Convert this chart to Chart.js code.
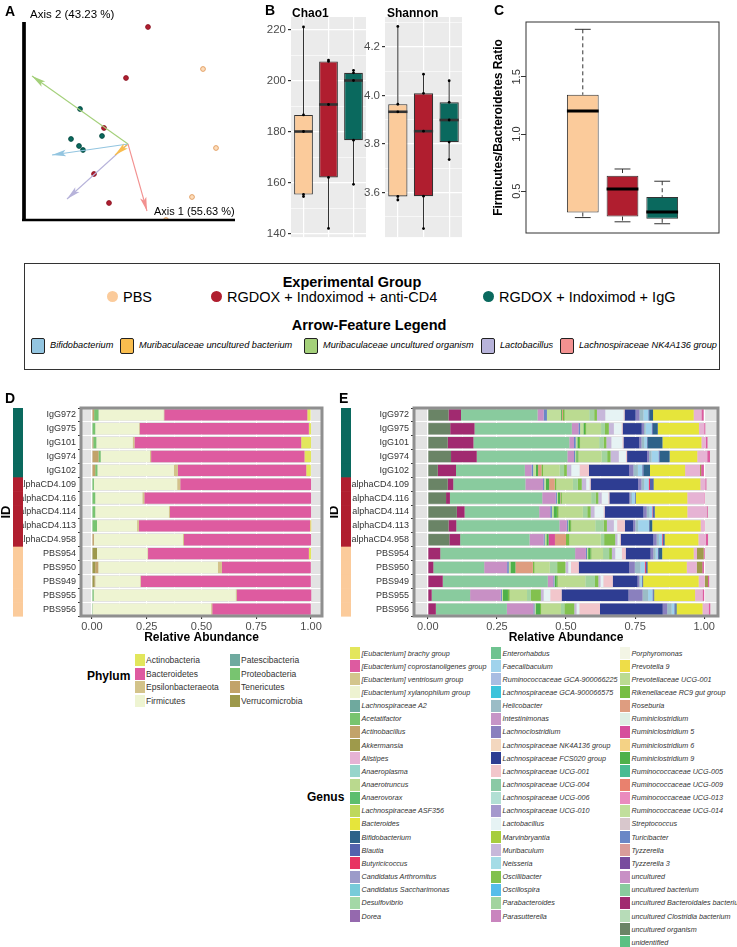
<!DOCTYPE html>
<html>
<head>
<meta charset="utf-8">
<script src="https://cdn.jsdelivr.net/npm/chart.js@4.4.1/dist/chart.umd.min.js"></script>
<style>
  body { margin: 0; width: 737px; height: 947px; position: relative; overflow: hidden; background: #fff;
         font-family: 'Liberation Sans', Arial, sans-serif; color: #000; }
  canvas { position: absolute; }
  .t { position: absolute; white-space: nowrap; line-height: 1; }
</style>
</head>
<body>
<script>
// ---------- data ----------
const GROUPS = ["PBS", "RGDOX + Indoximod + anti-CD4", "RGDOX + Indoximod + IgG"];
const GROUP_COLORS = ["#FBCB9B", "#B01E2F", "#0A695E"];

// A: PCoA scores and feature arrows
const pbsX = [0.75, 0.88, 0.64, 0.38];
const pbsY = [0.75, -0.04, -0.53, -0.76];
const cd4X = [0.20, -0.02, -0.24, -0.34, -0.19];
const cd4Y = [1.17, 0.66, 0.16, -0.30, -0.59];
const iggX = [-0.48, -0.57, -0.49, -0.45, -0.26];
const iggY = [0.35, 0.05, -0.02, -0.06, 0.08];
const arrowFeatures = ["Bifidobacterium", "Muribaculaceae uncultured bacterium", "Muribaculaceae uncultured organism", "Lactobacillus", "Lachnospiraceae NK4A136 group"];
const arrowX = [-0.76, -0.13, -0.96, -0.61, 0.19];
const arrowY = [-0.11, -0.11, 0.68, -0.55, -0.67];
const arrowColors = ["#93C5E0", "#F9BD4E", "#A4D07A", "#B7B3DA", "#F29190"];

// B: alpha diversity, each = [max, q3, median, q1, min] (n = 5 per group)
const alphaLabels = ["PBS", "anti-CD4", "IgG"];
const chaoPBS = [221, 186.5, 180, 155.3, 154.5];
const chaoCD4 = [208, 207.5, 190.6, 162, 142];
const chaoIgG = [204, 203, 200, 176.6, 159.3];
const chaoTicks = [140, 160, 180, 200, 220];
const shanPBS = [4.285, 3.964, 3.933, 3.584, 3.569];
const shanCD4 = [4.088, 4.009, 3.853, 3.585, 3.451];
const shanIgG = [4.061, 3.972, 3.899, 3.808, 3.736];
const shanTicks = [3.6, 3.8, 4.0, 4.2];

// C: Firmicutes/Bacteroidetes ratio
const fbPBS = [1.916, 1.343, 1.201, 0.313, 0.269];
const fbCD4 = [0.694, 0.635, 0.52, 0.278, 0.232];
const fbIgG = [0.587, 0.45, 0.317, 0.258, 0.215];
const fbTicks = [0.5, 1.0, 1.5];

// D / E samples
const samples = ["IgG972", "IgG975", "IgG101", "IgG974", "IgG102",
                 "alphaCD4.109", "alphaCD4.116", "alphaCD4.114", "alphaCD4.113", "alphaCD4.958",
                 "PBS954", "PBS950", "PBS949", "PBS955", "PBS956"];
const sampleGroup = [2, 2, 2, 2, 2, 1, 1, 1, 1, 1, 0, 0, 0, 0, 0];
const abundTicks = [0, 0.25, 0.5, 0.75, 1];

// D: phylum
const phyla = ["Actinobacteria", "Bacteroidetes", "Epsilonbacteraeota", "Firmicutes",
               "Patescibacteria", "Proteobacteria", "Tenericutes", "Verrucomicrobia"];
const phylaColors = ["#E2E65C", "#DE5BA0", "#D3C38A", "#EEF4D2", "#6FAA9F", "#78C470", "#C2A36A", "#9D994C"];
const actinobacteria = [0.015, 0.010, 0.045, 0.030, 0.021, 0, 0, 0, 0.005, 0, 0.010, 0, 0, 0, 0];
const bacteroidetes = [0.653, 0.772, 0.761, 0.700, 0.586, 0.597, 0.761, 0.644, 0.782, 0.580, 0.734, 0.406, 0.776, 0.340, 0.450];
const epsilonbacteraeota = [0.003, 0.003, 0.008, 0.005, 0.018, 0.014, 0.009, 0.005, 0.008, 0.005, 0.003, 0.018, 0.003, 0.005, 0.005];
const firmicutes = [0.297, 0.200, 0.166, 0.225, 0.349, 0.380, 0.215, 0.336, 0.183, 0.406, 0.230, 0.546, 0.205, 0.648, 0.540];
const patescibacteria = [0, 0, 0, 0, 0, 0, 0, 0, 0, 0, 0, 0, 0, 0, 0];
const proteobacteria = [0.020, 0.015, 0.014, 0.010, 0.010, 0.009, 0.015, 0.015, 0.023, 0, 0, 0, 0, 0.008, 0.004];
const tenericutes = [0.010, 0, 0.006, 0.030, 0.015, 0, 0, 0, 0, 0.009, 0, 0.014, 0.004, 0, 0];
const verrucomicrobia = [0, 0, 0, 0, 0, 0, 0, 0, 0, 0, 0.023, 0.015, 0.011, 0, 0];

// E: genus legend (65 levels)
const genusNames = ["[Eubacterium] brachy group", "[Eubacterium] coprostanoligenes group", "[Eubacterium] ventriosum group",
  "[Eubacterium] xylanophilum group", "Lachnospiraceae A2", "Acetatifactor", "Actinobacillus", "Akkermansia", "Alistipes",
  "Anaeroplasma", "Anaerotruncus", "Anaerovorax", "Lachnospiraceae ASF356", "Bacteroides", "Bifidobacterium", "Blautia",
  "Butyricicoccus", "Candidatus Arthromitus", "Candidatus Saccharimonas", "Desulfovibrio", "Dorea",
  "Enterorhabdus", "Faecalibaculum", "Ruminococcaceae GCA-900066225", "Lachnospiraceae GCA-900066575", "Helicobacter",
  "Intestinimonas", "Lachnoclostridium", "Lachnospiraceae NK4A136 group", "Lachnospiraceae FCS020 group",
  "Lachnospiraceae UCG-001", "Lachnospiraceae UCG-004", "Lachnospiraceae UCG-006", "Lachnospiraceae UCG-010",
  "Lactobacillus", "Marvinbryantia", "Muribaculum", "Neisseria", "Oscillibacter", "Oscillospira", "Parabacteroides",
  "Parasutterella",
  "Porphyromonas", "Prevotella 9", "Prevotellaceae UCG-001", "Rikenellaceae RC9 gut group", "Roseburia",
  "Ruminiclostridium", "Ruminiclostridium 5", "Ruminiclostridium 6", "Ruminiclostridium 9", "Ruminococcaceae UCG-005",
  "Ruminococcaceae UCG-009", "Ruminococcaceae UCG-013", "Ruminococcaceae UCG-014", "Streptococcus", "Turicibacter",
  "Tyzzerella", "Tyzzerella 3", "uncultured", "uncultured bacterium", "uncultured Bacteroidales bacterium",
  "uncultured Clostridia bacterium", "uncultured organism", "unidentified"];
const genusColors = ["#E3E65C", "#DD5BA0", "#D3C58C", "#EEF3D1", "#6FA99E", "#78C46F", "#C2A36B", "#9E9A4B", "#E6B3D4",
  "#97D5CB", "#BAD98E", "#5DBE6E", "#BED85C", "#E6E53B", "#2E6289", "#5462AD", "#E83462", "#9C9BC9", "#78CBD9",
  "#A3D8A6", "#9569AE",
  "#6FC390", "#A0D3EC", "#A9BDE2", "#3CC3DB", "#9BBCC6", "#C695C7", "#8A80BE", "#F3D7BF", "#2E3D92", "#F2C6CB",
  "#8AC9A5", "#B2DFD4", "#A599CD", "#E6F3F4", "#A7CD3D", "#C7B8DA", "#A4DCE6", "#82C14E", "#56BDEA", "#A2D49F",
  "#C985BE",
  "#F3F5E5", "#EEDD48", "#BBDB91", "#77BE44", "#DE9D80", "#DFEFE5", "#D64E9C", "#F4D285", "#4EB14A", "#4ABC93",
  "#E9816E", "#EA8BBE", "#C1DF9C", "#D8C7CC", "#6A87C6", "#D99C9A", "#784C9E", "#C890C5", "#89CB9E", "#A12A70",
  "#B7DCB8", "#6A8466", "#5BC083"];

// E: genus abundances (main genera, listed left to right in the bars)
const uncOrganism = [0.075, 0.081, 0.072, 0.084, 0.036, 0.072, 0.066, 0.105, 0.075, 0.078, 0, 0, 0, 0, 0];
const uncBacteroidales = [0.045, 0.088, 0.093, 0.093, 0.066, 0.020, 0.014, 0.028, 0.028, 0.039, 0.045, 0.020, 0.054, 0.014, 0.029];
const uncBacterium = [0.277, 0.352, 0.347, 0.328, 0.249, 0.261, 0.334, 0.270, 0.373, 0.251, 0.488, 0.184, 0.380, 0.139, 0.257];
const uncultured = [0.022, 0.024, 0.017, 0.024, 0.024, 0.064, 0.049, 0.040, 0.027, 0.051, 0.039, 0.083, 0.020, 0.111, 0.096];
const turicibacter = [0.012, 0.006, 0.006, 0.004, 0.006, 0.004, 0.004, 0.006, 0.004, 0.004, 0.004, 0.006, 0.004, 0.004, 0.004];
const rumUCG014 = [0.050, 0.012, 0.006, 0.004, 0.010, 0.006, 0.004, 0.006, 0.002, 0.006, 0.004, 0.006, 0.002, 0.004, 0.004];
const ruminiclostridium9 = [0.004, 0.006, 0.006, 0.004, 0.008, 0.012, 0.008, 0.012, 0.006, 0.008, 0.008, 0.018, 0.006, 0.018, 0.016];
const ruminiclostridium5 = [0, 0, 0, 0, 0, 0, 0, 0, 0, 0.023, 0, 0, 0, 0, 0];
const roseburia = [0.004, 0, 0, 0, 0.012, 0.020, 0.002, 0, 0, 0.040, 0, 0.063, 0, 0, 0];
const rc9 = [0.006, 0.004, 0.004, 0.004, 0.006, 0.006, 0.004, 0.006, 0.004, 0.012, 0.004, 0.006, 0.004, 0.006, 0.004];
const prevotellaceaeUCG001 = [0.089, 0.054, 0.069, 0.084, 0.060, 0.060, 0.106, 0.088, 0.087, 0.114, 0.042, 0.055, 0.100, 0.063, 0.072];
const parabacteroides = [0.018, 0.014, 0.016, 0.020, 0.016, 0.018, 0.016, 0.016, 0.030, 0.012, 0.022, 0.027, 0.035, 0.014, 0.012];
const oscillibacter = [0.010, 0.014, 0.010, 0.012, 0.010, 0.014, 0.010, 0.012, 0.012, 0.040, 0.010, 0.030, 0.012, 0.036, 0.036];
const muribaculum = [0.030, 0.018, 0.018, 0.030, 0.016, 0.016, 0.012, 0.014, 0.025, 0.008, 0.012, 0.010, 0.008, 0.010, 0.008];
const lactobacillus = [0.066, 0.028, 0.040, 0.026, 0.030, 0.012, 0.024, 0.033, 0.012, 0.008, 0.024, 0.010, 0.010, 0.024, 0.010];
const lachnoUCG001 = [0.004, 0.004, 0.004, 0.004, 0.034, 0.004, 0.004, 0.004, 0.028, 0.004, 0.014, 0.028, 0.034, 0.041, 0.075];
const lachnoFCS020 = [0.040, 0.069, 0.057, 0.072, 0.145, 0.172, 0.072, 0.140, 0.030, 0.118, 0.090, 0.183, 0.090, 0.242, 0.227];
const lachnoclostridium = [0.014, 0.008, 0.008, 0.008, 0.016, 0.012, 0.004, 0.012, 0.008, 0.012, 0.010, 0.020, 0.006, 0.051, 0.016];
const helicobacter = [0.014, 0.006, 0.010, 0.008, 0.016, 0.010, 0.006, 0.010, 0.010, 0.008, 0.008, 0.020, 0.004, 0.020, 0.016];
const faecalibaculum = [0.018, 0.022, 0.010, 0.026, 0.016, 0.016, 0.010, 0.010, 0.039, 0.012, 0.008, 0.016, 0.006, 0.016, 0.010];
const butyricicoccus = [0, 0, 0, 0, 0, 0.005, 0, 0.002, 0, 0.003, 0, 0.004, 0, 0, 0];
const blautia = [0.003, 0.004, 0.002, 0.004, 0.004, 0.011, 0.002, 0.006, 0.002, 0.004, 0.004, 0.004, 0.002, 0.004, 0.004];
const bifidobacterium = [0.014, 0.018, 0.054, 0.036, 0.024, 0.002, 0.002, 0.002, 0.010, 0.002, 0.012, 0.002, 0.002, 0.002, 0.004];
const bacteroides = [0.147, 0.149, 0.141, 0.100, 0.127, 0.169, 0.186, 0.117, 0.175, 0.122, 0.114, 0.142, 0.201, 0.148, 0.094];
const alistipes = [0.028, 0.019, 0.016, 0.036, 0.054, 0.018, 0.061, 0.070, 0.012, 0.027, 0.012, 0.036, 0.022, 0.027, 0.022];
const akkermansia = [0, 0, 0, 0, 0.004, 0, 0, 0, 0, 0, 0.024, 0.020, 0.012, 0, 0];
const coprostanoligenes = [0.008, 0.004, 0.006, 0.010, 0.010, 0.004, 0.002, 0.004, 0.002, 0.008, 0.004, 0.006, 0.004, 0.006, 0.006];

// ---------- helpers ----------
Chart.defaults.font.family = "'Liberation Sans', Arial, sans-serif";
Chart.defaults.color = "#333";

function canvasAt(left, top, w, h) {
  const c = document.createElement("canvas");
  c.width = w; c.height = h;
  c.style.left = left + "px"; c.style.top = top + "px";
  c.style.width = w + "px"; c.style.height = h + "px";
  document.body.appendChild(c);
  return c;
}

function text(str, left, top, css) {
  const d = document.createElement("div");
  d.className = "t";
  d.textContent = str;
  d.style.left = left + "px";
  d.style.top = top + "px";
  if (css) d.style.cssText += css;
  document.body.appendChild(d);
  return d;
}

function box(left, top, w, h, css) {
  const d = document.createElement("div");
  d.style.cssText = `position:absolute;left:${left}px;top:${top}px;width:${w}px;height:${h}px;box-sizing:border-box;` + (css || "");
  document.body.appendChild(d);
  return d;
}

const common = {
  responsive: false,
  animation: false,
  devicePixelRatio: 1,
  events: []
};

// background fill + frame around the plot area
Chart.register({
  id: "bgFrame",
  beforeDraw(chart, args, o) {
    const a = chart.chartArea, c = chart.ctx;
    if (o.bg) {
      c.fillStyle = o.bg;
      c.fillRect(a.left, a.top, a.right - a.left, a.bottom - a.top);
    }
  },
  afterDraw(chart, args, o) {
    const a = chart.chartArea, c = chart.ctx;
    if (o.frame) {
      c.save();
      c.strokeStyle = o.frame;
      c.lineWidth = o.frameWidth || 1;
      c.strokeRect(a.left, a.top, a.right - a.left, a.bottom - a.top);
      c.restore();
    }
    if (o.lAxes) {
      c.save();
      c.strokeStyle = "#000";
      c.lineWidth = 3.7;
      c.beginPath(); c.moveTo(a.left - 2, a.top); c.lineTo(a.left - 2, a.bottom + 1); c.stroke();
      c.lineWidth = 2.4;
      c.beginPath(); c.moveTo(a.left - 4, a.bottom); c.lineTo(a.right, a.bottom); c.stroke();
      c.restore();
    }
  }
});

// whiskers and median lines for boxes built from floating bars
Chart.register({
  id: "boxExtras",
  beforeDatasetsDraw(chart, args, o) {
    if (!o.stats) return;
    const c = chart.ctx, ys = chart.scales.y;
    const bars = chart.getDatasetMeta(0).data;
    c.save();
    c.strokeStyle = o.color || "#333";
    c.lineWidth = 1;
    o.stats.forEach((s, i) => {
      const x = bars[i].x;
      c.setLineDash(o.dash || []);
      c.beginPath();
      c.moveTo(x, ys.getPixelForValue(s[0])); c.lineTo(x, ys.getPixelForValue(s[1]));
      c.moveTo(x, ys.getPixelForValue(s[3])); c.lineTo(x, ys.getPixelForValue(s[4]));
      c.stroke();
      if (o.cap) {
        c.setLineDash([]);
        const hw = bars[i].width * o.cap / 2;
        c.beginPath();
        c.moveTo(x - hw, ys.getPixelForValue(s[0])); c.lineTo(x + hw, ys.getPixelForValue(s[0]));
        c.moveTo(x - hw, ys.getPixelForValue(s[4])); c.lineTo(x + hw, ys.getPixelForValue(s[4]));
        c.stroke();
      }
    });
    c.restore();
  },
  afterDatasetDraw(chart, args, o) {
    if (!o.stats || args.index !== 0) return;
    const c = chart.ctx, ys = chart.scales.y;
    const bars = chart.getDatasetMeta(0).data;
    c.save();
    c.strokeStyle = o.medColor || "#333";
    c.lineWidth = o.medW || 2.5;
    o.stats.forEach((s, i) => {
      const b = bars[i], y = ys.getPixelForValue(s[2]);
      c.beginPath(); c.moveTo(b.x - b.width / 2, y); c.lineTo(b.x + b.width / 2, y); c.stroke();
    });
    c.restore();
  }
});

// arrow heads at the end of two-point line datasets
Chart.register({
  id: "arrowHeads",
  afterDatasetsDraw(chart, args, o) {
    if (!o.count) return;
    const c = chart.ctx;
    for (let i = 0; i < o.count; i++) {
      const meta = chart.getDatasetMeta(i);
      const p0 = meta.data[0], p1 = meta.data[1];
      const ang = Math.atan2(p1.y - p0.y, p1.x - p0.x);
      c.save();
      c.translate(p1.x, p1.y);
      c.rotate(ang);
      c.fillStyle = chart.data.datasets[i].borderColor;
      c.beginPath();
      c.moveTo(0, 0); c.lineTo(-14, -3.2); c.lineTo(-11, 0); c.lineTo(-14, 3.2);
      c.closePath(); c.fill();
      c.restore();
    }
  }
});

// group colour strip and "ID" label beside the sample axis
Chart.register({
  id: "idStrip",
  afterDraw(chart, args, o) {
    if (o.x === undefined) return;
    const ys = chart.scales.y, c = chart.ctx, a = chart.chartArea;
    const step = Math.abs(ys.getPixelForValue(1) - ys.getPixelForValue(0));
    o.groups.forEach((g, i) => {
      const yc = ys.getPixelForValue(i);
      c.fillStyle = o.colors[g];
      c.fillRect(o.x, yc - step / 2, o.w, step + 0.6);
    });
    c.save();
    c.translate(o.labelX, (a.top + a.bottom) / 2);
    c.rotate(-Math.PI / 2);
    c.fillStyle = "#000";
    c.font = "bold 13px 'Liberation Sans', Arial, sans-serif";
    c.textAlign = "center"; c.textBaseline = "middle";
    c.fillText("ID", 0, 0);
    c.restore();
  }
});

// rotated y tick labels (base R style)
Chart.register({
  id: "rotTicks",
  afterDraw(chart, args, o) {
    if (!o.values) return;
    const ys = chart.scales.y, c = chart.ctx, a = chart.chartArea;
    c.save();
    c.fillStyle = "#333";
    c.font = "11px 'Liberation Sans', Arial, sans-serif";
    c.textAlign = "center"; c.textBaseline = "middle";
    o.values.forEach(v => {
      c.save();
      c.translate(a.left - o.dx, ys.getPixelForValue(v));
      c.rotate(-Math.PI / 2);
      c.fillText(o.fmt(v), 0, 0);
      c.restore();
    });
    c.restore();
  }
});

// ---------- A: PCoA biplot ----------
function groupPoints(xs, ys, fill, stroke, label) {
  return {
    type: "scatter", label: label,
    data: xs.map((x, i) => ({ x: x, y: ys[i] })),
    pointRadius: 2.4, backgroundColor: fill, borderColor: stroke, borderWidth: 0.9
  };
}

new Chart(canvasAt(0, 0, 240, 235), {
  type: "scatter",
  data: {
    datasets: arrowFeatures.map((f, i) => ({
      type: "line", label: f,
      data: [{ x: 0, y: 0 }, { x: arrowX[i], y: arrowY[i] }],
      borderColor: arrowColors[i], borderWidth: 1.1, pointRadius: 0
    })).concat([
      groupPoints(pbsX, pbsY, "#FDDDBB", "#E09A5C", GROUPS[0]),
      groupPoints(cd4X, cd4Y, "#B01E2F", "#8A1422", GROUPS[1]),
      groupPoints(iggX, iggY, "#0A695E", "#06483F", GROUPS[2])
    ])
  },
  options: Object.assign({}, common, {
    layout: { padding: { left: 26, right: 5, top: 22, bottom: 15 } },
    scales: {
      x: { display: false, min: -1.02, max: 1.07 },
      y: { display: false, min: -0.76, max: 1.22 }
    },
    plugins: {
      legend: { display: false }, tooltip: { enabled: false },
      arrowHeads: { count: arrowFeatures.length },
      bgFrame: { lAxes: true }
    }
  })
});

// ---------- B: alpha diversity ----------
function alphaChart(left, width, yW, stats, yMin, yMax, majors, fmt) {
  const step = majors[1] - majors[0];
  const minors = majors.map(v => v + step / 2).concat([majors[0] - step / 2]).filter(v => v > yMin && v < yMax);
  const all = majors.concat(minors).sort((a, b) => a - b);
  return new Chart(canvasAt(left, 0, width, 246), {
    type: "bar",
    data: {
      labels: alphaLabels,
      datasets: [
        {
          data: stats.map(s => [s[3], s[1]]),
          backgroundColor: GROUP_COLORS, borderColor: "#333", borderWidth: 1.1, borderSkipped: false,
          barPercentage: 0.75, categoryPercentage: 1, order: 1
        },
        {
          type: "line", showLine: false, order: 0,
          data: stats.flatMap((s, i) => s.map(v => ({ x: alphaLabels[i], y: v }))),
          pointRadius: 1.4, pointBackgroundColor: "#000", pointBorderWidth: 0
        }
      ]
    },
    options: Object.assign({}, common, {
      layout: { padding: { left: 0, right: 3, top: 17, bottom: 2 } },
      scales: {
        x: {
          offset: true,
          ticks: { display: false },
          grid: { color: "#fff", lineWidth: 1.2, offset: false, drawTicks: false },
          border: { display: false },
          afterFit: s => { s.height = 0; }
        },
        y: {
          min: yMin, max: yMax,
          afterBuildTicks: s => { s.ticks = all.map(v => ({ value: v })); },
          afterFit: s => { s.width = yW; },
          ticks: { callback: v => majors.includes(v) ? fmt(v) : "", color: "#4D4D4D", font: { size: 11.5 }, padding: 2, autoSkip: false },
          grid: {
            color: "#fff", lineWidth: c => majors.includes(c.tick.value) ? 1.2 : 0.6,
            tickLength: 3, tickColor: c => majors.includes(c.tick.value) ? "#333" : "rgba(0,0,0,0)"
          },
          border: { display: false }
        }
      },
      plugins: {
        legend: { display: false }, tooltip: { enabled: false },
        bgFrame: { bg: "#EBEBEB" },
        boxExtras: { stats: stats, color: "#333", medColor: "#333", medW: 2.6 }
      }
    })
  });
}

alphaChart(255, 115, 36, [chaoPBS, chaoCD4, chaoIgG], 138.6, 224.9, chaoTicks, v => String(v));
alphaChart(350, 116, 35, [shanPBS, shanCD4, shanIgG], 3.416, 4.324, shanTicks, v => v.toFixed(1));

// ---------- C: F/B ratio ----------
const fbStats = [fbPBS, fbCD4, fbIgG];
new Chart(canvasAt(490, 0, 235, 240), {
  type: "bar",
  data: {
    datasets: [{
      data: fbStats.map((s, i) => ({ x: i + 1, y: [s[3], s[1]] })),
      backgroundColor: GROUP_COLORS, borderColor: "#333", borderWidth: 1, borderSkipped: false,
      barPercentage: 0.8, categoryPercentage: 1
    }]
  },
  options: Object.assign({}, common, {
    layout: { padding: { left: 0, right: 6, top: 22, bottom: 7 } },
    scales: {
      x: { type: "linear", display: false, min: 0.38, max: 3.62 },
      y: {
        min: 0.134, max: 1.98,
        afterBuildTicks: s => { s.ticks = fbTicks.map(v => ({ value: v })); },
        afterFit: s => { s.width = 36; },
        ticks: { display: false },
        grid: { drawOnChartArea: false, drawTicks: true, tickLength: 5, color: "#333" },
        border: { display: false },
        title: { display: true, text: "Firmicutes/Bacteroidetes Ratio", color: "#000", font: { size: 12, weight: "bold" }, padding: { top: 1, bottom: 0 } }
      }
    },
    plugins: {
      legend: { display: false }, tooltip: { enabled: false },
      bgFrame: { frame: "#333" },
      boxExtras: { stats: fbStats, color: "#333", dash: [4, 3], cap: 0.5, medColor: "#000", medW: 3 },
      rotTicks: { values: fbTicks, fmt: v => v.toFixed(1), dx: 9.5 }
    }
  })
});

// ---------- D / E: relative abundance ----------
function abundanceChart(left, width, yW, rightPad, datasets, stripX) {
  const minors = abundTicks.slice(1).map(v => v - 0.125);
  const all = abundTicks.concat(minors).sort((a, b) => a - b);
  return new Chart(canvasAt(left, 400, width, 245), {
    type: "bar",
    data: { labels: samples, datasets: datasets },
    options: Object.assign({}, common, {
      indexAxis: "y",
      layout: { padding: { left: 0, right: rightPad, top: 8, bottom: 0 } },
      datasets: { bar: { barPercentage: 0.82, categoryPercentage: 1 } },
      scales: {
        x: {
          stacked: true, min: -0.05, max: 1.05,
          afterBuildTicks: s => { s.ticks = all.map(v => ({ value: v })); },
          afterFit: s => { s.height = 29; },
          ticks: { callback: v => abundTicks.includes(v) ? v.toFixed(2) : "", color: "#4D4D4D", font: { size: 11 }, padding: 1, autoSkip: false, maxRotation: 0 },
          grid: {
            color: "#fff", lineWidth: c => abundTicks.includes(c.tick.value) ? 1.1 : 0.5,
            tickLength: 3, tickColor: c => abundTicks.includes(c.tick.value) ? "#333" : "rgba(0,0,0,0)"
          },
          border: { display: false },
          title: { display: true, text: "Relative Abundance", color: "#000", font: { size: 12, weight: "bold" }, padding: 0 }
        },
        y: {
          stacked: true,
          afterFit: s => { s.width = yW; },
          ticks: { color: "#333", font: { size: 9 }, padding: 2, autoSkip: false },
          grid: { color: "#fff", lineWidth: 1, tickLength: 3, tickColor: "#333" },
          border: { display: false }
        }
      },
      plugins: {
        legend: { display: false }, tooltip: { enabled: false },
        bgFrame: { bg: "#E3E3E3", frame: "#8F8F8F", frameWidth: 3 },
        idStrip: { x: stripX, w: 10, labelX: stripX - 7, groups: sampleGroup, colors: GROUP_COLORS }
      }
    })
  });
}

const phylumSeries = [verrucomicrobia, tenericutes, proteobacteria, patescibacteria, firmicutes, epsilonbacteraeota, bacteroidetes, actinobacteria];
const phylumOrder = ["Verrucomicrobia", "Tenericutes", "Proteobacteria", "Patescibacteria", "Firmicutes", "Epsilonbacteraeota", "Bacteroidetes", "Actinobacteria"];
abundanceChart(0, 330, 81, 8, phylumSeries.map((d, i) => ({
  label: phylumOrder[i], data: d, backgroundColor: phylaColors[phyla.indexOf(phylumOrder[i])], borderWidth: 0
})), 13);

const genusSeries = [
  ["uncultured organism", uncOrganism], ["uncultured Bacteroidales bacterium", uncBacteroidales],
  ["uncultured bacterium", uncBacterium], ["uncultured", uncultured], ["Turicibacter", turicibacter],
  ["Ruminococcaceae UCG-014", rumUCG014], ["Ruminiclostridium 9", ruminiclostridium9],
  ["Ruminiclostridium 5", ruminiclostridium5], ["Roseburia", roseburia], ["Rikenellaceae RC9 gut group", rc9],
  ["Prevotellaceae UCG-001", prevotellaceaeUCG001], ["Parabacteroides", parabacteroides],
  ["Oscillibacter", oscillibacter], ["Muribaculum", muribaculum], ["Lactobacillus", lactobacillus],
  ["Lachnospiraceae UCG-001", lachnoUCG001], ["Lachnospiraceae FCS020 group", lachnoFCS020],
  ["Lachnoclostridium", lachnoclostridium], ["Helicobacter", helicobacter], ["Faecalibaculum", faecalibaculum],
  ["Butyricicoccus", butyricicoccus], ["Blautia", blautia], ["Bifidobacterium", bifidobacterium],
  ["Bacteroides", bacteroides], ["Alistipes", alistipes], ["Akkermansia", akkermansia],
  ["[Eubacterium] coprostanoligenes group", coprostanoligenes]
];
abundanceChart(330, 395, 84, 7, genusSeries.map(([name, d]) => ({
  label: name, data: d, backgroundColor: genusColors[genusNames.indexOf(name)], borderWidth: 0
})), 11);

// ---------- text, panel letters, legends ----------
text("A", 5, 4, "font-weight:bold;font-size:14px;");
text("B", 265, 3, "font-weight:bold;font-size:14px;");
text("C", 494, 3, "font-weight:bold;font-size:14px;");
text("D", 5, 391, "font-weight:bold;font-size:14px;");
text("E", 339, 391, "font-weight:bold;font-size:14px;");
text("Axis 2 (43.23 %)", 30, 9, "font-size:11.5px;");
text("Axis 1 (55.63 %)", 154, 206, "font-size:11px;");
text("Chao1", 292, 7, "font-weight:bold;font-size:12px;");
text("Shannon", 387, 7, "font-weight:bold;font-size:12px;");

// experimental group / arrow legend box
box(24, 263, 696, 107, "border:1px solid #333;");
text("Experimental Group", 352, 275, "font-weight:bold;font-size:14.5px;transform:translateX(-50%);");
const groupLegendX = [107, 211, 483];
GROUPS.forEach((g, i) => {
  box(groupLegendX[i], 291, 11, 11, `border-radius:50%;background:${GROUP_COLORS[i]};`);
  text(g, groupLegendX[i] + 16, 290, "font-size:14.5px;");
});
text("Arrow-Feature Legend", 369, 318, "font-weight:bold;font-size:14.5px;transform:translateX(-50%);");
const arrowLegendX = [31, 120, 304, 481, 560];
arrowFeatures.forEach((f, i) => {
  box(arrowLegendX[i], 338, 14, 16, `border:1px solid #222;border-radius:2px;background:${arrowColors[i]};`);
  text(f, arrowLegendX[i] + 19, 341, "font-size:9.2px;font-style:italic;");
});

// phylum legend
text("Phylum", 87, 670, "font-weight:bold;font-size:12px;");
phyla.forEach((p, i) => {
  const col = Math.floor(i / 4), row = i % 4;
  const bx = col === 0 ? 135 : 230;
  const top = 654 + row * 13.5;
  box(bx, top, 10, 12, `background:${phylaColors[i]};`);
  text(p, bx + 11, top + 2, "font-size:8.5px;color:#333;");
});

// genus legend
text("Genus", 307, 791, "font-weight:bold;font-size:12px;");
const genusColX = [350, 491, 620];
genusNames.forEach((g, i) => {
  const col = i < 21 ? 0 : (i < 42 ? 1 : 2);
  const row = col === 0 ? i : (col === 1 ? i - 21 : i - 42);
  const top = 647 + row * 13.15;
  box(genusColX[col], top, 10, 12, `background:${genusColors[i]};`);
  text(g, genusColX[col] + 11.5, top + 2.5, "font-size:7.2px;font-style:italic;color:#333;");
});
</script>
</body>
</html>
